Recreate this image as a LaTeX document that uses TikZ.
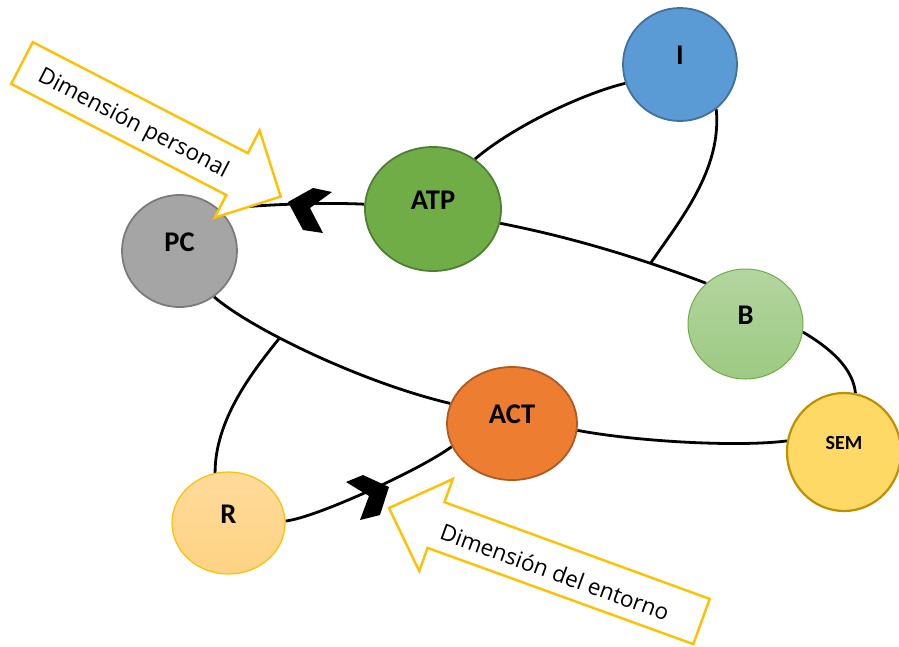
\documentclass[tikz,border=0pt]{standalone}
\usepackage{fontspec}
\setmainfont{Carlito}
\newfontfamily\calloutfont{Open Sans}
\usetikzlibrary{shapes.geometric,backgrounds}
\pgfdeclarelayer{paper}
\pgfsetlayers{paper,background,main}

\definecolor{iblue}{HTML}{5B9BD5}
\definecolor{iblueline}{HTML}{41719C}
\definecolor{atpgreen}{HTML}{70AD47}
\definecolor{atpline}{HTML}{507E32}
\definecolor{pcgray}{HTML}{A5A5A5}
\definecolor{pcline}{HTML}{7B7B7B}
\definecolor{bgreentop}{HTML}{B3D5A0}
\definecolor{bgreenbot}{HTML}{9DCA82}
\definecolor{bline}{HTML}{70AD47}
\definecolor{semyellow}{HTML}{FFD966}
\definecolor{semline}{HTML}{BF9000}
\definecolor{actorange}{HTML}{ED7D31}
\definecolor{actline}{HTML}{AE5A21}
\definecolor{rtop}{HTML}{FFDA9A}
\definecolor{rbot}{HTML}{FFD384}
\definecolor{rline}{HTML}{FFC000}
\definecolor{calloutgold}{HTML}{FFC000}

\begin{document}
\begin{tikzpicture}[x=1pt,y=-1pt,
  bubble/.style={ellipse, draw, line width=1.8pt, inner sep=0pt,
    font=\fontsize{28.5}{30}\selectfont\bfseries, text height=10pt, text depth=10pt},
  smallbubble/.style={font=\fontsize{20}{22}\selectfont\bfseries, text height=7pt, text depth=13pt},
  link/.style={line width=2.8pt, black},
  callout/.style={draw=calloutgold, line width=2.4pt, fill=white, line join=miter},
  chev/.style={fill=black},
  calltext/.style={font=\calloutfont\fontsize{22.5}{26}\selectfont, inner sep=0pt}
]
\path[use as bounding box] (0,0) rectangle (899,646);
\begin{pgfonlayer}{paper}
  \fill[white] (0,0) rectangle (899,646);
\end{pgfonlayer}

% circles
\node[bubble, fill=iblue, draw=iblueline, minimum width=114pt, minimum height=113pt] (I) at (680,64.5) {I};
\node[bubble, fill=atpgreen, draw=atpline, minimum width=136pt, minimum height=124pt] (ATP) at (433,209) {ATP};
\node[bubble, fill=pcgray, draw=pcline, minimum width=115pt, minimum height=112pt] (PC) at (179.5,251) {PC};
\node[bubble, top color=bgreentop, bottom color=bgreenbot, draw=bline, line width=1pt,
      minimum width=115pt, minimum height=110pt] (B) at (745.5,324) {B};
\node[bubble, smallbubble, fill=semyellow, draw=semline, line width=2.2pt,
      minimum width=114pt, minimum height=118pt] (SEM) at (844,452) {SEM};
\node[bubble, fill=actorange, draw=actline, minimum width=130pt, minimum height=113pt] (ACT) at (512,423.5) {ACT};
\node[bubble, top color=rtop, bottom color=rbot, draw=rline, line width=1.2pt,
      minimum width=113pt, minimum height=102pt] (R) at (228.5,523) {R};

% connecting curves
\begin{scope}[on background layer]
  \draw[link] (I.199) .. controls (585,93) and (515,125) .. (ATP.50);
  \draw[link] (ATP.348) .. controls (570,237) and (637,257) .. (B.134) coordinate[pos=0.73] (jB);
  \draw[link] (I.309) .. controls (722,170) and (680,220) .. (jB);
  \draw[link] (PC.46) .. controls (250,205) and (320,202) .. (ATP.176);
  \draw[link] (PC.307) .. controls (250,328) and (360,382) .. (ACT.162) coordinate[pos=0.37] (jR);
  \draw[link] (R.105) .. controls (215,420) and (252,372) .. (jR);
  \draw[link] (R.2) .. controls (315,518) and (420,470) .. (ACT.201);
  \draw[link] (ACT.354) .. controls (640,442) and (740,447) .. (SEM.169);
  \draw[link] (B.352) .. controls (830,348) and (853,368) .. (SEM.79);
\end{scope}

% heavy arrowheads on the curves
\fill[chev] (288,202) -- (313,188) -- (332,192) -- (310,208) -- (323,233) -- (303,230) -- cycle;
\fill[chev] (346,482) -- (363,475) -- (389,487) -- (380,515) -- (360,520) -- (369,496) -- cycle;

% block arrows with captions
\draw[callout] (32.8,42.1) -- (247.9,153.2) -- (259.6,130.4) -- (280.7,196.6)
  -- (214.6,217.7) -- (226.3,195) -- (11.2,83.9) -- cycle;
\node[calltext, rotate=-27.3] (dp) at (133,124) {Dimensión personal};

\draw[callout] (389,508) -- (452.8,479) -- (444.4,502.1) -- (709.7,598.9)
  -- (693.3,644.1) -- (427.6,547.9) -- (419.2,571) -- cycle;
\node[calltext, rotate=-20] (de) at (555,572) {Dimensión del entorno};
\end{tikzpicture}
\end{document}
